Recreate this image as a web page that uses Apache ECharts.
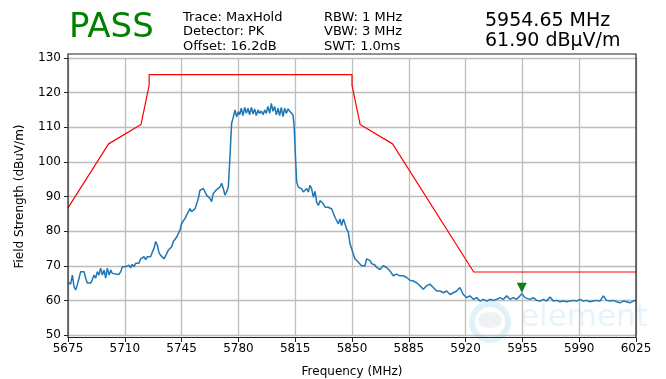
<!DOCTYPE html>
<html>
<head>
<meta charset="utf-8">
<script src="https://cdn.jsdelivr.net/npm/echarts@6/dist/echarts.min.js"></script>
<style>html,body{margin:0;padding:0;background:#fff;}#c{width:666px;height:379px;}</style>
</head>
<body>
<div id="c"></div>
<script>
// Measured trace (MaxHold, PK)
const freqs = [
5675,5676.6,5677.7,5678.7,5679.7,5680.7,5681.8,5682.8,5683.8,5684.9,5685.9,5686.9,5687.9,5689.0,5690.0,5691.0,5692.0,5693.1,5694.1,5695.1,
5696.2,5697.2,5698.2,5699.2,5700.3,5701.3,5702.3,5703.3,5704.4,5705.4,5706.4,5707.5,5708.5,5709.5,5710.5,5711.6,5712.6,5713.6,5714.6,5715.7,
5716.7,5717.7,5718.7,5719.8,5720.8,5721.8,5722.9,5723.9,5724.9,5725.9,5727.0,5728.0,5729.0,5730.0,5731.1,5732.1,5733.1,5734.2,
5735.8,5736.8,5737.8,5738.9,5739.9,5740.9,5742.0,5743.0,5744.0,5745.0,5746.1,5747.1,5748.1,5749.1,5750.2,5751.2,5752.2,5753.3,5754.3,5755.3,
5756.3,5757.4,5758.4,5759.4,5760.4,5761.5,5762.5,5763.5,5764.5,5765.6,5766.6,5767.6,5768.7,5769.7,5770.7,5771.7,5772.8,5773.8,5774.8,5775.8,
5776.9,5777.9,5778.9,5779.9,
5780.8,5781.8,5782.8,5783.9,5784.9,5785.9,5786.9,5788.0,5789.0,5790.0,5791.0,5792.1,5793.1,5794.1,5795.2,5796.2,5797.2,5798.2,5799.3,5800.3,
5801.3,5802.3,5803.4,5804.4,5805.4,5806.4,5807.5,5808.5,5809.5,5810.6,5811.6,5812.6,5813.6,5814.3,5815.1,5815.9,
5816.9,5818.0,5819.0,5820.0,5821.0,5822.1,5823.1,5824.1,5825.1,5826.2,5827.2,5828.2,5829.3,5830.3,5831.3,5832.3,5833.4,5834.4,5835.4,5836.4,
5837.5,5838.5,5839.5,5840.5,5841.6,5842.6,5843.6,5844.7,5845.7,5846.7,5847.7,5848.8,5849.8,5850.8,5851.8,5852.9,5853.9,5854.9,5855.9,5857.0,
5858.0,5859.0,5860.1,5861.1,5862.1,5863.1,5864.1,5865.2,5866.2,5867.2,
5869.3,5871.3,5873.4,5875.4,5877.5,5879.5,5881.6,5883.7,5885.7,5887.8,5889.8,5891.9,5893.9,5896.0,5898.0,5900.1,5902.2,5904.2,5906.3,5908.3,
5910.4,5912.4,5914.5,5916.5,5918.6,5920.7,5922.7,5924.8,5926.8,5928.9,5930.9,5933.0,5935.0,5937.1,5939.2,5941.2,5943.3,5945.3,5947.4,5949.4,
5951.5,5953.5,5954.65,5956.6,5957.6,5959.7,5961.7,5963.8,5965.8,5967.9,5969.9,5972.0,5974.1,5976.1,5978.2,5980.2,5982.3,5984.3,5986.4,5988.4,
5990.5,5992.5,5994.6,5996.6,5998.7,6000.8,6002.8,6004.9,6006.9,6009.0,6011.0,6013.1,6015.1,6017.2,6019.2,6021.3,6023.3,6025.0
];
const levels = [
65.2,64.7,67.3,64.0,63.0,64.4,66.4,68.3,68.8,68.3,66.4,65.0,64.5,65.0,66.0,67.3,66.4,68.3,67.3,69.3,
67.3,68.8,66.4,69.3,67.3,68.8,67.8,67.8,67.6,67.3,67.5,68.3,69.7,69.3,69.7,69.4,70.2,69.4,70.4,69.7,
70.7,71.2,70.7,72.0,72.1,72.6,71.8,72.6,73.1,72.6,74.0,75.0,77.0,76.0,73.7,73.0,72.6,72.0,
73.5,74.5,74.0,75.5,77.0,76.5,78.3,77.9,80.3,82.2,82.7,83.7,84.6,84.2,86.5,85.6,86.0,86.5,87.0,89.4,
91.8,92.3,92.3,91.8,90.4,89.9,89.4,88.5,90.9,91.4,92.0,91.6,92.8,93.8,92.3,90.4,91.4,92.8,101.5,111.1,
113.0,115.0,113.0,114.5,
113.6,115.5,113.4,115.7,114.0,115.5,113.6,115.7,113.8,115.3,113.4,115.0,114.0,114.7,113.6,115.0,114.0,116.0,114.0,116.9,
114.6,116.0,113.6,115.5,113.4,115.7,113.1,115.5,114.0,115.3,114.6,115.0,113.6,110.7,102.0,94.2,
92.7,92.9,92.2,91.3,91.8,92.3,91.3,93.2,92.3,89.8,91.5,88.4,87.4,88.8,88.4,87.9,86.9,87.4,86.9,87.4,
86.4,86.0,84.0,83.5,82.1,83.5,81.6,83.5,83.0,80.6,79.7,76.3,74.9,73.4,72.0,71.5,71.0,70.5,70.0,70.5,
70.0,72.0,72.0,71.5,70.6,71.0,70.2,69.5,69.6,68.9,
70.0,69.5,68.5,67.1,67.6,67.1,67.1,66.6,65.8,65.6,65.1,64.2,63.2,64.2,64.7,63.7,62.7,62.7,62.2,62.7,
61.7,62.2,62.7,63.7,61.7,60.8,61.3,60.3,60.8,59.8,60.3,59.8,60.3,60.0,60.3,60.8,60.3,61.3,60.3,60.8,
60.3,61.3,61.9,60.8,61.3,60.3,60.8,60.0,59.8,60.3,59.8,61.0,59.8,60.0,59.6,59.8,59.6,59.8,60.0,59.8,
60.3,59.8,60.0,59.6,59.8,60.0,59.8,61.3,60.0,59.8,60.0,59.6,59.3,59.8,59.6,59.3,59.8,60.0
];
// Limit mask
const limitFreqs = [5675, 5700, 5720, 5725, 5725, 5850, 5850, 5855, 5875, 5925, 6025];
const limitLevels = [86.7, 105.2, 110.8, 122.2, 125.2, 125.2, 122.2, 110.8, 105.2, 68.2, 68.2];
// Marker
const markerFreq = 5954.65;
const markerLevel = 61.90;
// Axis ticks
const xTicks = [5675, 5710, 5745, 5780, 5815, 5850, 5885, 5920, 5955, 5990, 6025];
const yTicks = [50, 60, 70, 80, 90, 100, 110, 120, 130];
// Header texts
const verdict = 'PASS';
const infoCol1 = ['Trace: MaxHold', 'Detector: PK', 'Offset: 16.2dB'];
const infoCol2 = ['RBW: 1 MHz', 'VBW: 3 MHz', 'SWT: 1.0ms'];
const markerText = ['5954.65 MHz', '61.90 dBμV/m'];

const FONT = 'DejaVu Sans';
const chart = echarts.init(document.getElementById('c'), null, {renderer: 'canvas'});

const traceData = freqs.map((f, i) => [f, levels[i]]);
const limitData = limitFreqs.map((f, i) => [f, limitLevels[i]]);

const lineY = [19, 33.5, 48];
const graphics = [];
// watermark
graphics.push({type: 'circle', shape: {cx: 490, cy: 322, r: 18}, style: {fill: 'none', stroke: 'rgba(120,190,225,0.22)', lineWidth: 6}, z: 0, silent: true});
graphics.push({type: 'ellipse', shape: {cx: 490, cy: 320, rx: 12, ry: 8}, style: {fill: 'rgba(190,200,210,0.25)'}, z: 0, silent: true});
graphics.push({type: 'text', left: 520, top: 302, style: {text: 'element', fontFamily: FONT, fontSize: 31, fill: 'rgba(140,200,235,0.22)'}, z: 0, silent: true});
// frame
graphics.push({type: 'rect', shape: {x: 68, y: 54, width: 568, height: 283.5}, style: {fill: 'none', stroke: '#222', lineWidth: 1.2}, z: 50, silent: true});
// header
graphics.push({type: 'text', left: 69, top: 11, style: {text: verdict, fontFamily: FONT, fontSize: 34, fill: '#008000'}});
infoCol1.forEach((t, i) => graphics.push({type: 'text', left: 183, top: lineY[i] - 8, style: {text: t, fontFamily: FONT, fontSize: 13, fill: '#000'}}));
infoCol2.forEach((t, i) => graphics.push({type: 'text', left: 324, top: lineY[i] - 8, style: {text: t, fontFamily: FONT, fontSize: 13, fill: '#000'}}));
graphics.push({type: 'text', left: 485, top: 12, style: {text: markerText[0], fontFamily: FONT, fontSize: 19, fill: '#000'}});
graphics.push({type: 'text', left: 485, top: 32, style: {text: markerText[1], fontFamily: FONT, fontSize: 19, fill: '#000'}});

chart.setOption({
  animation: false,
  backgroundColor: '#fff',
  grid: {left: 68, right: 30, top: 58, bottom: 44, containLabel: false, outerBoundsMode: 'none'},
  xAxis: {
    type: 'value', min: xTicks[0], max: xTicks[xTicks.length - 1], interval: 35,
    offset: 3,
    name: 'Frequency (MHz)', nameLocation: 'middle', nameGap: 28,
    nameTextStyle: {fontFamily: FONT, fontSize: 12, color: '#000'},
    axisLine: {show: false},
    axisTick: {show: true, length: 4, lineStyle: {color: '#222', width: 1}},
    axisLabel: {fontFamily: FONT, fontSize: 12, color: '#000', margin: 5, formatter: v => String(v)},
    splitLine: {show: true, lineStyle: {color: '#bdbdbd', width: 1.3}}
  },
  yAxis: {
    type: 'value', min: yTicks[0], max: yTicks[yTicks.length - 1], interval: 10,
    name: 'Field Strength (dBuV/m)', nameLocation: 'middle', nameGap: 42,
    nameTextStyle: {fontFamily: FONT, fontSize: 12, color: '#000'},
    axisLine: {show: false},
    axisTick: {show: true, length: 4, lineStyle: {color: '#222', width: 1}},
    axisLabel: {fontFamily: FONT, fontSize: 12, color: '#000', margin: 7, formatter: v => String(v)},
    splitLine: {show: true, lineStyle: {color: '#bdbdbd', width: 1.3}}
  },
  graphic: graphics,
  series: [
    {type: 'line', data: limitData, showSymbol: false, symbol: 'none', lineStyle: {color: '#ff0000', width: 1.2}, z: 3},
    {type: 'line', data: traceData, showSymbol: false, symbol: 'none', lineStyle: {color: '#1f77b4', width: 1.5}, z: 4},
    {type: 'scatter', data: [[markerFreq, markerLevel]], symbol: 'triangle', symbolRotate: 180, symbolSize: [10, 10], symbolOffset: [0, -6],
     itemStyle: {color: '#0f7f0f', opacity: 1}, z: 5}
  ]
});
</script>
</body>
</html>
